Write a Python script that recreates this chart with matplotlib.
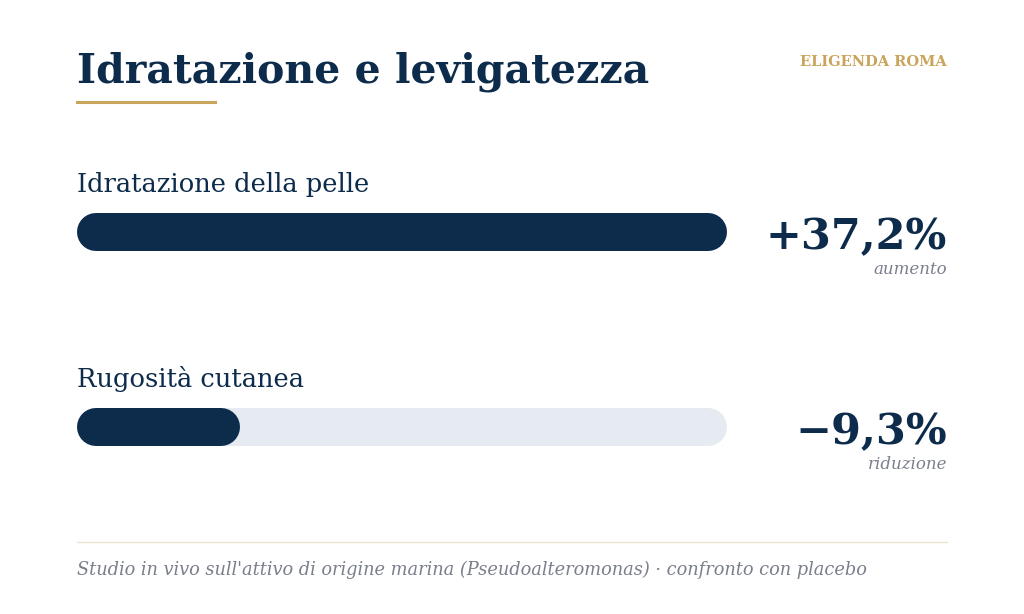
import matplotlib
matplotlib.use("Agg")
import matplotlib.pyplot as plt

labels = ["Idratazione della pelle", "Rugosità cutanea"]
values = [37.2, 9.3]
value_texts = ["+37,2%", "\u22129,3%"]
sub_texts = ["aumento", "riduzione"]
scale_max = 37.2

NAVY = "#0d2b4b"
GOLD = "#c9a45a"
TRACK = "#e6eaf1"
GREY = "#7a7f8c"
SERIF = ["DejaVu Serif"]

W, H = 1024, 614
fig = plt.figure(figsize=(W/100, H/100), dpi=100)
fig.patch.set_facecolor("white")

def fx(px): return px / W
def fy(py): return 1 - py / H

fig.text(fx(77), fy(83), "Idratazione e levigatezza", family=SERIF, weight="bold",
         fontsize=29.5, color=NAVY, va="baseline")
fig.text(fx(947), fy(66), "ELIGENDA ROMA", family=SERIF, weight="bold",
         fontsize=10.5, color=GOLD, va="baseline", ha="right")
fig.add_artist(plt.Line2D([fx(77), fx(215)], [fy(102), fy(102)], color=GOLD, lw=2.2))
fig.add_artist(plt.Line2D([fx(77), fx(947)], [fy(542), fy(542)], color="#eee3cf", lw=1))
fig.text(fx(77), fy(575), "Studio in vivo sull'attivo di origine marina (Pseudoalteromonas) \u00b7 confronto con placebo",
         family=SERIF, style="italic", fontsize=12.8, color=GREY, va="baseline")

track_px = 727 - 77
ax = fig.add_axes([fx(77), 0, track_px / W, 1])
ax.set_xlim(0, scale_max)
ax.set_ylim(H, 0)
ax.axis("off")
bar_px = 38
bar_lw = bar_px * 0.72
inset = (bar_px / 2) * scale_max / track_px
row_y = [232, 427]
for lab, v, vt, st, y in zip(labels, values, value_texts, sub_texts, row_y):
    ax.plot([inset, scale_max - inset], [y, y], color=TRACK, lw=bar_lw,
            solid_capstyle="round", clip_on=False)
    ax.plot([inset, v - inset], [y, y], color=NAVY, lw=bar_lw,
            solid_capstyle="round", clip_on=False)
    fig.text(fx(77), fy(y - 40), lab, family=SERIF, fontsize=18.5, color=NAVY, va="baseline")
    fig.text(fx(947), fy(y + 17), vt, family=SERIF, weight="bold", fontsize=31,
             color=NAVY, va="baseline", ha="right")
    fig.text(fx(947), fy(y + 42), st, family=SERIF, style="italic", fontsize=12,
             color=GREY, va="baseline", ha="right")

fig.savefig("out.png", dpi=100)
